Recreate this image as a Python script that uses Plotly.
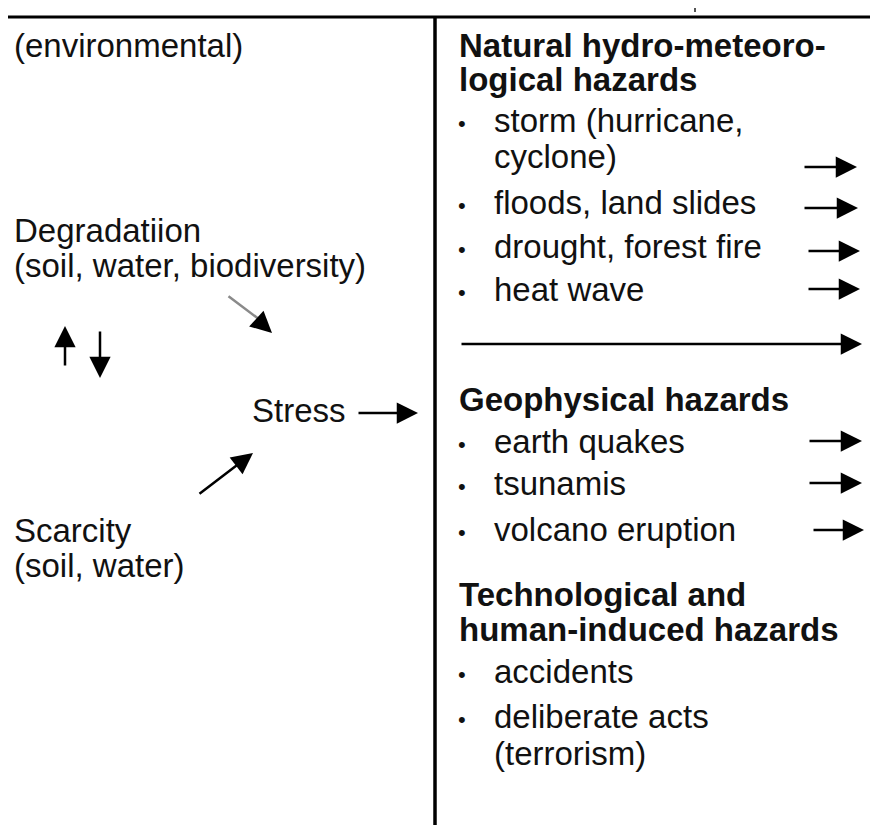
import plotly.graph_objects as go

# ---- text content (x, y centre in pixel-like data units) ----
left_labels = ["(environmental)", "Degradatiion", "(soil, water, biodiversity)",
               "Stress", "Scarcity", "(soil, water)"]
left_x = [12, 12, 12, 250, 12, 12]
left_y = [45, 230, 265, 410, 530, 565]

head_labels = ["Natural hydro-meteoro-", "logical hazards", "Geophysical hazards",
               "Technological and", "human-induced hazards"]
head_y = [45, 79, 399, 594, 629]

item_labels = ["storm (hurricane,", "cyclone)", "floods, land slides", "drought, forest fire",
               "heat wave", "earth quakes", "tsunamis", "volcano eruption",
               "accidents", "deliberate acts", "(terrorism)"]
item_y = [120, 156, 202, 246, 289, 441, 483, 529, 671, 716, 753]
item_bullet = [True, False, True, True, True, True, True, True, True, True, False]

# ---- arrows: tail -> tip ----
arrow_tail_x = [803, 803, 807, 807, 460, 808, 808, 812, 357, 65, 100, 198]
arrow_tail_y = [167, 208, 251, 289, 344, 441, 483, 530, 413, 367, 330, 495]
arrow_tip_x = [857, 858, 860, 860, 862, 862, 862, 864, 418, 65, 100, 253]
arrow_tip_y = [167, 208, 251, 289, 344, 441, 483, 530, 413, 326, 378, 453]

# grey arrow (degradation -> stress)
grey_tail = (227, 295)
grey_tip = (272, 333)

FONT = "Liberation Sans, Arial, sans-serif"
SIZE = 33
TXT = "#111111"
OFF = 8  # page body margin compensation

fig = go.Figure()
fig.add_trace(go.Scatter(x=[OFF, 878], y=[OFF, 825], mode="markers",
                         marker=dict(opacity=0), hoverinfo="skip", showlegend=False))

ann = []
for t, x, y in zip(left_labels, left_x, left_y):
    ann.append(dict(x=x, y=y, text=t, showarrow=False, xanchor="left", yanchor="middle",
                    font=dict(family=FONT, size=SIZE, color=TXT)))
for t, y in zip(head_labels, head_y):
    ann.append(dict(x=457, y=y, text="<b>" + t + "</b>", showarrow=False, xanchor="left",
                    yanchor="middle", font=dict(family=FONT, size=SIZE, color=TXT)))
for t, y, b in zip(item_labels, item_y, item_bullet):
    ann.append(dict(x=492, y=y, text=t, showarrow=False, xanchor="left", yanchor="middle",
                    font=dict(family=FONT, size=SIZE, color=TXT)))
    if b:
        ann.append(dict(x=462, y=y + 3, text="•", showarrow=False, xanchor="center",
                        yanchor="middle", font=dict(family=FONT, size=22, color=TXT)))

for tx, ty, hx, hy in zip(arrow_tail_x, arrow_tail_y, arrow_tip_x, arrow_tip_y):
    ann.append(dict(x=hx, y=hy, ax=tx, ay=ty, xref="x", yref="y", axref="x", ayref="y",
                    text="", showarrow=True, arrowhead=2, arrowsize=1.7, arrowwidth=2.5,
                    arrowcolor="#000000"))

# grey shaft then black head
ann.append(dict(x=grey_tip[0] - 8, y=grey_tip[1] - 10, ax=grey_tail[0], ay=grey_tail[1],
                xref="x", yref="y", axref="x", ayref="y", text="", showarrow=True,
                arrowhead=0, arrowwidth=2.5, arrowcolor="#8a8a8a"))
ann.append(dict(x=grey_tip[0], y=grey_tip[1], ax=grey_tip[0] - 12, ay=grey_tip[1] - 11,
                xref="x", yref="y", axref="x", ayref="y", text="", showarrow=True,
                arrowhead=2, arrowsize=1.7, arrowwidth=2.5, arrowcolor="#000000"))

shapes = [
    dict(type="line", x0=0, x1=878, y0=17, y1=17, xref="x", yref="y",
         line=dict(color="#000000", width=3)),
    dict(type="line", x0=435, x1=435, y0=17, y1=825, xref="x", yref="y",
         line=dict(color="#000000", width=3.5)),
    dict(type="line", x0=695, x1=695, y0=OFF, y1=12, xref="x", yref="y",
         line=dict(color="#555555", width=2)),
]

fig.update_layout(
    width=878 - OFF, height=825 - OFF,
    margin=dict(l=0, r=0, t=0, b=0),
    paper_bgcolor="white", plot_bgcolor="white",
    xaxis=dict(range=[OFF, 878], visible=False, fixedrange=True),
    yaxis=dict(range=[825, OFF], visible=False, fixedrange=True),
    annotations=ann, shapes=shapes, showlegend=False,
)

fig.write_html("out.html")
